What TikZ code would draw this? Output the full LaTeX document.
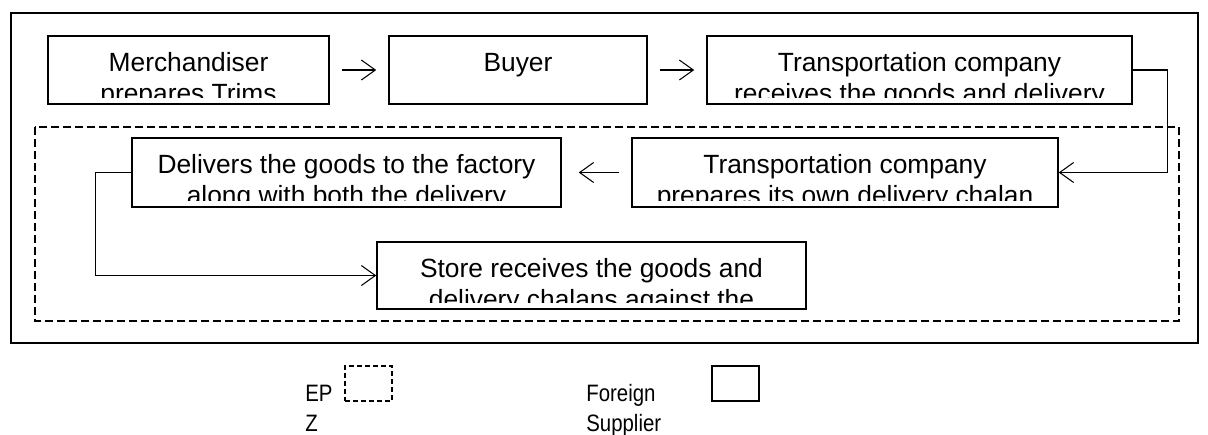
\documentclass[tikz,border=0pt]{standalone}
\usepackage{fontspec}
\setmainfont{Liberation Sans}
\usetikzlibrary{arrows.meta}

\newcommand\boxfont{\fontsize{15}{18}\selectfont}
\newcommand\keyfont{\fontsize{13.5}{16}\selectfont}
\newcommand\narrow[1]{\scalebox{0.86}[1]{#1}}

\tikzset{
  >={Straight Barb[length=0.28cm,width=0.4cm]},
  stepbox/.style={draw,line width=0.9pt,inner sep=0pt,minimum height=1.36cm},
  boxtext/.style 2 args={path picture={
      \clip ([yshift=0.14cm]path picture bounding box.south west) rectangle (path picture bounding box.north east);
      \node[anchor=base,inner sep=0pt,font=\boxfont] at ([yshift=-0.7cm]path picture bounding box.north) {#1};
      \node[anchor=base,inner sep=0pt,font=\boxfont] at ([yshift=-1.32cm]path picture bounding box.north) {#2};
  }},
  flow/.style={->,line width=0.6pt,shorten <=0.24cm,shorten >=0.24cm},
  elbow/.style={->,line width=0.6pt},
  keybox/.style={draw,line width=1pt,minimum width=0.94cm,minimum height=0.7cm,inner sep=0pt},
  keytext/.style={anchor=base west,inner sep=0pt,font=\keyfont}
}

\begin{document}
\begin{tikzpicture}[x=0.02cm,y=-0.02cm]
\useasboundingbox (0,0) rectangle (1208,434);

% frames
\draw[line width=1.1pt] (11,13) rectangle (1198,343);
\draw[line width=1.2pt,dash pattern=on 0.16cm off 0.08cm] (35,127) rectangle (1179,321);

% steps
\node[stepbox,minimum width=5.62cm,boxtext={Merchandiser}{prepares Trims}] (merch) at (188.5,70) {};
\node[stepbox,minimum width=5.16cm,boxtext={Buyer}{}] (buyer) at (518,70) {};
\node[stepbox,minimum width=8.5cm,boxtext={Transportation company}{receives the goods and delivery}] (carrier) at (919.5,70) {};
\node[stepbox,minimum width=8.52cm,minimum height=1.38cm,boxtext={Transportation company}{prepares its own delivery chalan}] (chalan) at (845,172.5) {};
\node[stepbox,minimum width=8.58cm,minimum height=1.38cm,boxtext={Delivers the goods to the factory}{along with both the delivery}] (deliver) at (346.5,172.5) {};
\node[stepbox,minimum width=8.58cm,minimum height=1.34cm,boxtext={Store receives the goods and}{delivery chalans against the}] (store) at (591.5,275.5) {};

% connectors
\draw[flow] (merch) -- (buyer);
\draw[flow] (buyer) -- (carrier);
\draw[elbow] (carrier.east) -- ++(35,0) |- (chalan.east);
\draw[flow,shorten >=0.34cm] (chalan) -- (deliver);
\draw[elbow] (deliver.west) -- ++(-36,0) |- (store.west);

% legend
\node[keytext] (ep) at (305,401) {\narrow{EP}};
\node[keytext] (z) at (305,431) {\narrow{Z}};
\node[keybox,dash pattern=on 0.1cm off 0.06cm] (epzkey) at (368.5,383.5) {};
\node[keytext] (foreign) at (586,401) {\narrow{Foreign}};
\node[keytext] (supplier) at (586,431) {\narrow{Supplier}};
\node[keybox] (fskey) at (735.5,383.5) {};
\end{tikzpicture}
\end{document}
